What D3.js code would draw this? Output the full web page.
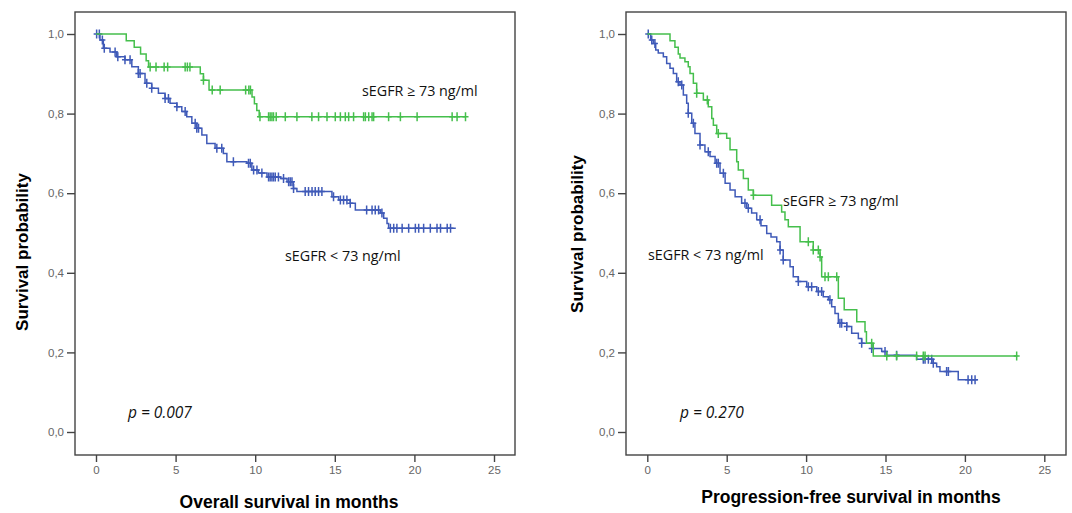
<!DOCTYPE html>
<html><head><meta charset="utf-8">
<script src="https://cdn.jsdelivr.net/npm/d3@7"></script>
<style>body{margin:0;background:#fff}svg{display:block}</style>
</head><body>
<svg id="c" width="1072" height="513"></svg>
<script>
// ---------- DATA ----------
const xTicks = [0, 5, 10, 15, 20, 25];
const yTicks = [0, 0.2, 0.4, 0.6, 0.8, 1.0];
const yTickLabels = ["0,0", "0,2", "0,4", "0,6", "0,8", "1,0"];
const seriesNames = ["sEGFR ≥ 73 ng/ml", "sEGFR < 73 ng/ml"];
const pValues = ["p = 0.007", "p = 0.270"];
const xTitles = ["Overall survival in months", "Progression-free survival in months"];
const yTitle = "Survival probability";

// Overall survival, sEGFR >= 73 : [time, survival after event]
const osHighSteps = [[1.9,0.983],[2.4,0.967],[2.8,0.950],[3.15,0.933],[3.3,0.917],
  [6.55,0.900],[6.75,0.884],[7.1,0.859],[9.8,0.842],[9.95,0.825],[10.1,0.808],[10.25,0.792]];
const osHighEnd = 23.2;
const osHighCens = [3.4,3.77,4.28,4.5,5.6,5.74,5.9,6.75,7.3,7.8,9.4,9.6,9.7,10.3,10.84,10.94,11.05,11.15,11.32,
  11.89,12.62,13.56,13.98,14.51,15.03,15.35,15.66,15.87,16.18,16.81,16.92,17.13,17.34,17.44,18.38,19.12,20.17,22.37,22.68,23.21];

// Overall survival, sEGFR < 73
const osLowSteps = [[0.25,0.985],[0.46,0.964],[0.88,0.955],[1.3,0.943],[1.82,0.935],[2.25,0.918],[2.66,0.901],
  [3.08,0.876],[3.5,0.864],[3.92,0.851],[4.34,0.838],[4.65,0.826],[5.08,0.817],[5.39,0.805],[5.7,0.792],
  [6.02,0.776],[6.33,0.763],[6.65,0.746],[6.96,0.725],[7.48,0.713],[8.0,0.700],[8.22,0.679],[9.48,0.675],
  [9.79,0.658],[10.2,0.651],[10.74,0.641],[11.6,0.637],[12.0,0.629],[12.4,0.612],[12.62,0.604],[14.82,0.591],
  [15.24,0.583],[15.97,0.575],[16.29,0.558],[17.86,0.550],[18.07,0.537],[18.28,0.524],[18.38,0.512]];
const osLowEnd = 22.6;
const osLowCens = [0.04,0.21,0.4,0.52,1.2,1.37,1.82,2.14,2.66,2.77,3.19,3.5,4.34,4.55,5.08,5.6,6.23,6.33,6.44,
  7.59,7.9,8.63,9.58,9.69,9.9,10.11,10.42,10.84,10.94,11.05,11.15,11.26,11.46,11.78,12.1,12.2,12.31,12.41,
  13.14,13.35,13.57,13.77,13.98,14.19,14.92,15.35,15.55,15.76,15.97,17.0,17.34,17.54,17.75,17.96,18.49,18.7,
  18.9,19.23,19.64,20.06,20.27,20.58,21.0,21.42,21.64,22.06,22.27];

// Progression-free survival, sEGFR >= 73
const pfsHighSteps = [[1.43,0.983],[1.74,0.967],[1.95,0.950],[2.06,0.940],[2.37,0.930],[2.58,0.918],[2.69,0.901],
  [2.9,0.876],[3.11,0.851],[3.53,0.834],[3.84,0.817],[4.06,0.788],[4.16,0.771],[4.37,0.750],[5.0,0.738],
  [5.21,0.709],[5.63,0.679],[5.73,0.658],[6.05,0.637],[6.36,0.608],[6.68,0.595],[7.83,0.570],[8.46,0.553],
  [8.67,0.533],[8.88,0.516],[9.62,0.478],[10.45,0.457],[10.88,0.440],[10.98,0.390],[12.03,0.336],[12.4,0.307],
  [13.19,0.277],[13.71,0.252],[13.8,0.223],[14.23,0.191]];
const pfsHighEnd = 23.3;
const pfsHighCens = [3.11,3.78,4.47,6.68,10.14,10.45,10.77,10.88,11.19,11.4,11.93,14.13,15.08,15.7,16.96,17.38,17.49,23.26];

// Progression-free survival, sEGFR < 73
const pfsLowSteps = [[0.21,0.985],[0.38,0.976],[0.53,0.960],[0.69,0.952],[1.01,0.943],[1.22,0.926],[1.43,0.914],
  [1.64,0.901],[1.85,0.880],[2.06,0.872],[2.27,0.847],[2.48,0.826],[2.58,0.801],[2.8,0.776],[3.0,0.750],
  [3.32,0.721],[3.63,0.704],[3.95,0.692],[4.27,0.675],[4.58,0.650],[4.9,0.625],[5.21,0.608],[5.53,0.591],
  [5.94,0.575],[6.26,0.562],[6.57,0.550],[6.89,0.533],[7.16,0.518],[7.52,0.499],[7.79,0.490],[8.15,0.478],
  [8.36,0.457],[8.56,0.432],[8.99,0.415],[9.19,0.390],[9.51,0.378],[10.04,0.365],[10.67,0.353],[11.08,0.340],
  [11.4,0.332],[11.61,0.315],[11.82,0.298],[12.03,0.273],[12.56,0.265],[12.87,0.248],[13.29,0.235],[13.5,0.223],
  [14.13,0.210],[14.76,0.202],[15.08,0.193],[16.96,0.183],[18.0,0.173],[18.22,0.164],[18.43,0.152],[19.58,0.131]];
const pfsLowEnd = 20.8;
const pfsLowCens = [0.06,0.28,0.48,1.95,2.17,2.58,2.9,3.32,3.84,4.37,4.47,4.79,6.15,6.36,7.1,8.36,8.56,9.51,10.14,
  10.35,10.77,10.98,11.5,12.13,12.24,12.56,13.5,14.13,14.97,15.7,17.38,17.49,17.7,17.91,18.01,18.85,18.96,20.2,20.43,20.64];

// ---------- DRAW ----------
const GREEN = "#45bf4c", BLUE = "#3f5ab8";
const svg = d3.select("#c");

const panels = [
  {x0:96, x25:494, frame:[75,12,515,455], high:[osHighSteps,osHighEnd,osHighCens], low:[osLowSteps,osLowEnd,osLowCens],
   highLbl:[362,96], lowLbl:[285,261], p:[128,418], xt:[289,508], yt:[28,252], title:xTitles[0], pv:pValues[0]},
  {x0:647.3, x25:1044.3, frame:[626,12,1066,455], high:[pfsHighSteps,pfsHighEnd,pfsHighCens], low:[pfsLowSteps,pfsLowEnd,pfsLowCens],
   highLbl:[783,206], lowLbl:[648,260], p:[680,418], xt:[851,503], yt:[583,234], title:xTitles[1], pv:pValues[1]}
];

const y = d3.scaleLinear().domain([0,1]).range([432,34]);

function survAt(steps, t){ let s=1; for(const [tt,ss] of steps){ if(tt<=t+1e-9) s=ss; else break;} return s; }
function stepPath(x, steps, end){
  let p = `M${x(0)},${y(1)}`;
  for(const [t,s] of steps){ p += `H${x(t)}V${y(s)}`; }
  p += `H${x(end)}`;
  return p;
}

panels.forEach(P=>{
  const x = d3.scaleLinear().domain([0,25]).range([P.x0,P.x25]);
  const g = svg.append("g");
  const [fx0,fy0,fx1,fy1] = P.frame;
  g.append("rect").attr("x",fx0).attr("y",fy0).attr("width",fx1-fx0).attr("height",fy1-fy0)
    .attr("fill","none").attr("stroke","#444").attr("stroke-width",1.4);

  // x axis
  const xa = d3.axisBottom(x).tickValues(xTicks).tickSize(7).tickPadding(4).tickFormat(d3.format("d"));
  const gx = g.append("g").attr("transform",`translate(0,${fy1})`).call(xa);
  gx.select(".domain").remove();
  gx.selectAll("line").attr("stroke","#444").attr("stroke-width",1.4);
  gx.selectAll("text").attr("fill","#666").attr("font-family","Liberation Sans, Arial, sans-serif").attr("font-size",11.5);

  // y axis
  const ya = d3.axisLeft(y).tickValues(yTicks).tickSize(8).tickPadding(3).tickFormat((d,i)=>yTickLabels[i]);
  const gy = g.append("g").attr("transform",`translate(${fx0},0)`).call(ya);
  gy.select(".domain").remove();
  gy.selectAll("line").attr("stroke","#444").attr("stroke-width",1.4);
  gy.selectAll("text").attr("fill","#666").attr("font-family","Liberation Sans, Arial, sans-serif").attr("font-size",11.5);

  // curves
  [[P.low,BLUE],[P.high,GREEN]].forEach(([[steps,end,cens],col])=>{
    g.append("path").attr("d",stepPath(x,steps,end)).attr("fill","none").attr("stroke",col).attr("stroke-width",1.5);
    g.selectAll(null).data(cens).enter().append("path")
      .attr("d",t=>{const cx=x(t), cy=y(survAt(steps,t)); return `M${cx},${cy-4.5}V${cy+4.5}M${cx-3},${cy}H${cx+3}`;})
      .attr("stroke",col).attr("stroke-width",1.5).attr("fill","none");
  });

  // texts
  const lblFont = "Open Sans, Noto Sans, sans-serif";
  g.append("text").attr("x",P.highLbl[0]).attr("y",P.highLbl[1]).text(seriesNames[0])
    .attr("font-family",lblFont).attr("font-size",14.3).attr("fill","#111");
  g.append("text").attr("x",P.lowLbl[0]).attr("y",P.lowLbl[1]).text(seriesNames[1])
    .attr("font-family",lblFont).attr("font-size",14.3).attr("fill","#111");
  g.append("text").attr("x",P.p[0]).attr("y",P.p[1]).text(P.pv)
    .attr("font-family",lblFont).attr("font-style","italic").attr("font-size",15.5).attr("fill","#111");
  g.append("text").attr("x",P.xt[0]).attr("y",P.xt[1]).attr("text-anchor","middle").text(P.title)
    .attr("font-family","Liberation Sans, Arial, sans-serif").attr("font-weight","bold").attr("font-size",17.5).attr("fill","#000");
  g.append("text").attr("transform",`translate(${P.yt[0]},${P.yt[1]}) rotate(-90)`).attr("text-anchor","middle").text(yTitle)
    .attr("font-family","Liberation Sans, Arial, sans-serif").attr("font-weight","bold").attr("font-size",17).attr("fill","#000");
});
</script>
</body></html>
